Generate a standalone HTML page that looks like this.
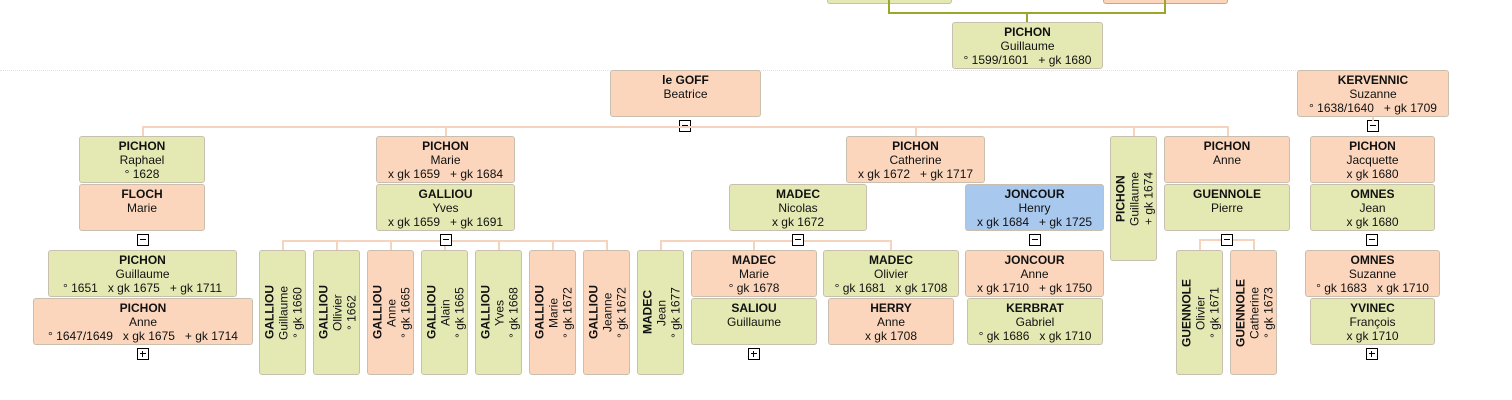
<!DOCTYPE html>
<html><head><meta charset="utf-8"><style>
body{margin:0;width:1512px;height:400px;background:#fff;position:relative;overflow:hidden;font-family:"Liberation Sans",Arial,sans-serif;}
.b{position:absolute;box-sizing:border-box;border:1px solid #c9bfae;border-radius:3px;text-align:center;font-size:12px;line-height:14px;color:#111;padding-top:2px;white-space:nowrap;}
.g{background:#e4e9b3;}.p{background:#fbd6bd;}.bl{background:#a9c8ee;}
.b b{display:block;font-weight:bold;}
.v{writing-mode:vertical-rl;transform:rotate(180deg);padding:0 2px 0 0;display:flex;flex-direction:column;justify-content:center;text-align:center;}
.v b{display:inline;}
.l{position:absolute;background:#f6d3bd;}
.k{position:absolute;width:12px;height:12px;box-sizing:border-box;border:1px solid #000;background:#fff;}
.k::before{content:"";position:absolute;left:2px;top:4px;width:6px;height:1px;background:#000;}
.k.plus::after{content:"";position:absolute;left:4px;top:2px;width:1px;height:6px;background:#000;}
.o{position:absolute;background:#9aa72a;}
</style></head><body>
<div class="b g" style="left:827px;top:-10px;width:125px;height:14px"></div>
<div class="b p" style="left:1103px;top:-10px;width:125px;height:14px;border-color:#e0a070"></div>
<div class="o" style="left:888px;top:0;width:2px;height:14px"></div>
<div class="o" style="left:1164px;top:0;width:2px;height:14px"></div>
<div class="o" style="left:888px;top:12px;width:278px;height:2px"></div>
<div class="o" style="left:1026px;top:12px;width:2px;height:10px"></div>
<div style="position:absolute;left:0;top:70px;width:1300px;border-top:1px dotted #f3dcd0"></div>

<div class="b g" style="left:952px;top:22px;width:151px;height:47px"><b>PICHON</b>Guillaume<br>° 1599/1601 &nbsp; + gk 1680</div>
<div class="b p" style="left:610px;top:70px;width:151px;height:47px"><b>le GOFF</b>Beatrice</div>
<div class="k" style="left:679px;top:120px"></div>
<div class="b p" style="left:1297px;top:70px;width:152px;height:47px"><b>KERVENNIC</b>Suzanne<br>° 1638/1640 &nbsp; + gk 1709</div>
<div class="k" style="left:1367px;top:120px"></div>

<div class="l" style="left:142px;top:126px;width:1087px;height:2px"></div>
<div class="l" style="left:142px;top:126px;width:2px;height:10px"></div>
<div class="l" style="left:445px;top:126px;width:2px;height:10px"></div>
<div class="l" style="left:915px;top:126px;width:2px;height:10px"></div>
<div class="l" style="left:1133px;top:126px;width:2px;height:10px"></div>
<div class="l" style="left:1227px;top:126px;width:2px;height:10px"></div>
<div class="l" style="left:1372px;top:117px;width:2px;height:4px"></div>

<!-- Raphael -->
<div class="b g" style="left:79px;top:136px;width:126px;height:47px"><b>PICHON</b>Raphael<br>° 1628</div>
<div class="b p" style="left:79px;top:184px;width:126px;height:47px"><b>FLOCH</b>Marie</div>
<div class="k" style="left:137px;top:234px"></div>
<div class="b g" style="left:48px;top:250px;width:189px;height:47px"><b>PICHON</b>Guillaume<br>° 1651 &nbsp; x gk 1675 &nbsp; + gk 1711</div>
<div class="b p" style="left:33px;top:298px;width:220px;height:47px"><b>PICHON</b>Anne<br>° 1647/1649 &nbsp; x gk 1675 &nbsp; + gk 1714</div>
<div class="k plus" style="left:137px;top:348px"></div>

<!-- Marie / Galliou -->
<div class="b p" style="left:376px;top:136px;width:139px;height:47px"><b>PICHON</b>Marie<br>x gk 1659 &nbsp; + gk 1684</div>
<div class="b g" style="left:376px;top:184px;width:139px;height:47px"><b>GALLIOU</b>Yves<br>x gk 1659 &nbsp; + gk 1691</div>
<div class="l" style="left:282px;top:240px;width:326px;height:2px"></div>
<div class="l" style="left:282px;top:240px;width:2px;height:10px"></div>
<div class="l" style="left:336px;top:240px;width:2px;height:10px"></div>
<div class="l" style="left:390px;top:240px;width:2px;height:10px"></div>
<div class="l" style="left:444px;top:240px;width:2px;height:10px"></div>
<div class="l" style="left:498px;top:240px;width:2px;height:10px"></div>
<div class="l" style="left:552px;top:240px;width:2px;height:10px"></div>
<div class="l" style="left:606px;top:240px;width:2px;height:10px"></div>
<div class="k" style="left:440px;top:234px"></div>
<div class="b g v" style="left:259px;top:250px;width:47px;height:125px"><b>GALLIOU</b><span>Guillaume</span><span>° gk 1660</span></div>
<div class="b g v" style="left:313px;top:250px;width:47px;height:125px"><b>GALLIOU</b><span>Ollivier</span><span>° 1662</span></div>
<div class="b p v" style="left:367px;top:250px;width:47px;height:125px"><b>GALLIOU</b><span>Anne</span><span>° gk 1665</span></div>
<div class="b g v" style="left:421px;top:250px;width:47px;height:125px"><b>GALLIOU</b><span>Alain</span><span>° gk 1665</span></div>
<div class="b g v" style="left:475px;top:250px;width:47px;height:125px"><b>GALLIOU</b><span>Yves</span><span>° gk 1668</span></div>
<div class="b p v" style="left:529px;top:250px;width:47px;height:125px"><b>GALLIOU</b><span>Marie</span><span>° gk 1672</span></div>
<div class="b p v" style="left:583px;top:250px;width:47px;height:125px"><b>GALLIOU</b><span>Jeanne</span><span>° gk 1672</span></div>

<!-- Catherine -->
<div class="b p" style="left:846px;top:136px;width:139px;height:47px"><b>PICHON</b>Catherine<br>x gk 1672 &nbsp; + gk 1717</div>
<div class="b g" style="left:729px;top:184px;width:138px;height:47px"><b>MADEC</b>Nicolas<br>x gk 1672</div>
<div class="l" style="left:660px;top:240px;width:232px;height:2px"></div>
<div class="l" style="left:660px;top:240px;width:2px;height:10px"></div>
<div class="l" style="left:753px;top:240px;width:2px;height:10px"></div>
<div class="l" style="left:890px;top:240px;width:2px;height:10px"></div>
<div class="k" style="left:792px;top:234px"></div>
<div class="b g v" style="left:637px;top:250px;width:47px;height:125px"><b>MADEC</b><span>Jean</span><span>° gk 1677</span></div>
<div class="b p" style="left:691px;top:250px;width:126px;height:47px"><b>MADEC</b>Marie<br>° gk 1678</div>
<div class="b g" style="left:691px;top:298px;width:126px;height:47px"><b>SALIOU</b>Guillaume</div>
<div class="k plus" style="left:748px;top:348px"></div>
<div class="b g" style="left:823px;top:250px;width:136px;height:47px"><b>MADEC</b>Olivier<br>° gk 1681 &nbsp; x gk 1708</div>
<div class="b p" style="left:828px;top:298px;width:126px;height:47px"><b>HERRY</b>Anne<br>x gk 1708</div>
<div class="b bl" style="left:965px;top:184px;width:139px;height:47px"><b>JONCOUR</b>Henry<br>x gk 1684 &nbsp; + gk 1725</div>
<div class="k" style="left:1029px;top:234px"></div>
<div class="b p" style="left:965px;top:250px;width:139px;height:47px"><b>JONCOUR</b>Anne<br>x gk 1710 &nbsp; + gk 1750</div>
<div class="b g" style="left:967px;top:298px;width:136px;height:47px"><b>KERBRAT</b>Gabriel<br>° gk 1686 &nbsp; x gk 1710</div>

<!-- right -->
<div class="b g v" style="left:1110px;top:136px;width:47px;height:125px"><b>PICHON</b><span>Guillaume</span><span>+ gk 1674</span></div>
<div class="b p" style="left:1164px;top:136px;width:126px;height:47px"><b>PICHON</b>Anne</div>
<div class="b g" style="left:1164px;top:184px;width:126px;height:47px"><b>GUENNOLE</b>Pierre</div>
<div class="l" style="left:1199px;top:239px;width:56px;height:2px"></div>
<div class="l" style="left:1199px;top:239px;width:2px;height:11px"></div>
<div class="l" style="left:1253px;top:239px;width:2px;height:11px"></div>
<div class="k" style="left:1221px;top:234px"></div>
<div class="b g v" style="left:1176px;top:250px;width:47px;height:125px"><b>GUENNOLE</b><span>Olivier</span><span>° gk 1671</span></div>
<div class="b p v" style="left:1230px;top:250px;width:47px;height:125px"><b>GUENNOLE</b><span>Catherine</span><span>° gk 1673</span></div>

<div class="b p" style="left:1310px;top:136px;width:125px;height:47px"><b>PICHON</b>Jacquette<br>x gk 1680</div>
<div class="b g" style="left:1310px;top:184px;width:125px;height:47px"><b>OMNES</b>Jean<br>x gk 1680</div>
<div class="k" style="left:1366px;top:234px"></div>
<div class="b p" style="left:1305px;top:250px;width:135px;height:47px"><b>OMNES</b>Suzanne<br>° gk 1683 &nbsp; x gk 1710</div>
<div class="b g" style="left:1310px;top:298px;width:125px;height:47px"><b>YVINEC</b>François<br>x gk 1710</div>
<div class="k plus" style="left:1366px;top:348px"></div>
</body></html>
